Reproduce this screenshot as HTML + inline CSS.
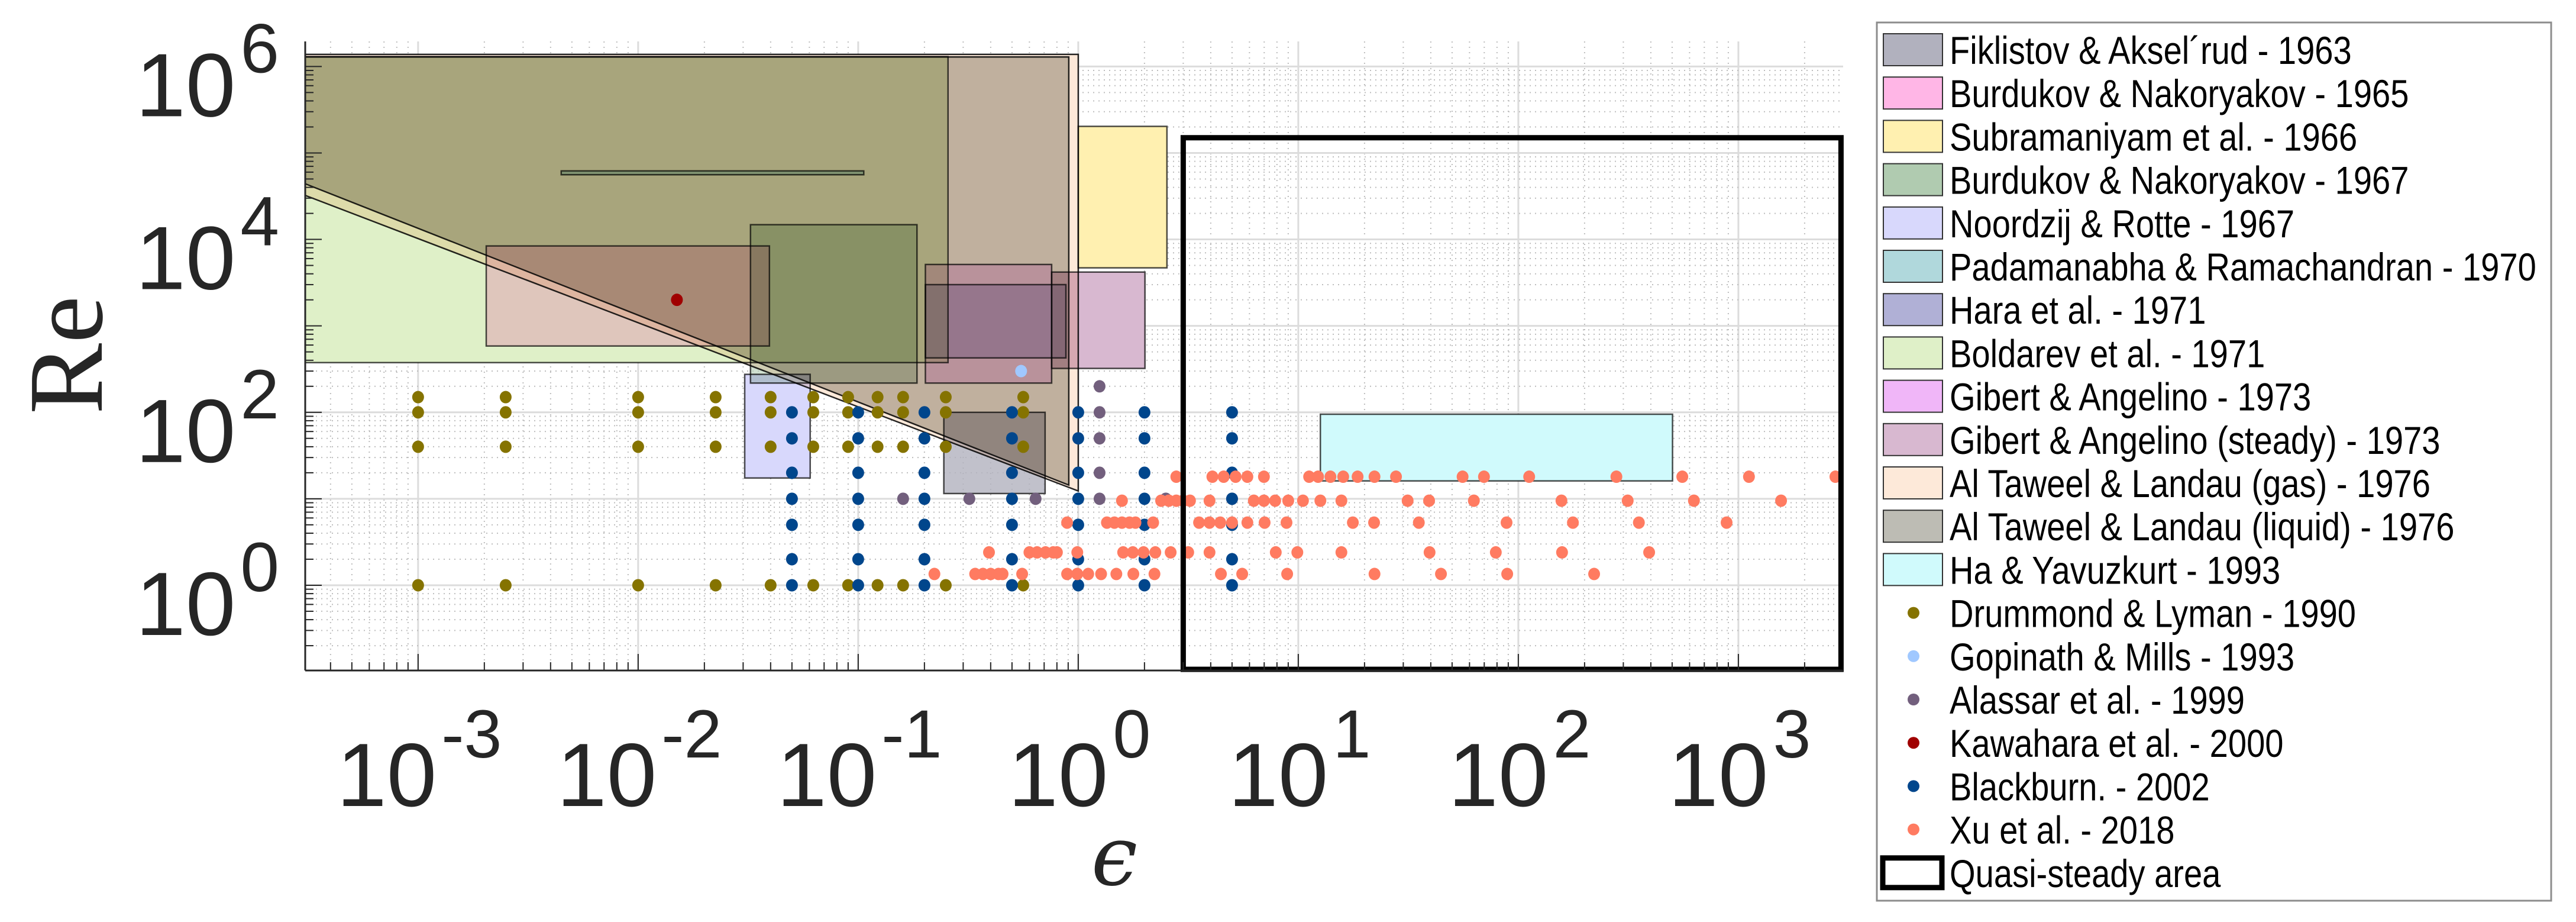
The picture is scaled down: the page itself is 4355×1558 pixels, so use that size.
<!DOCTYPE html>
<html><head><meta charset="utf-8"><title>Re vs epsilon</title>
<style>
html,body{margin:0;padding:0;background:#fff;}
svg{display:block;}
.blend{mix-blend-mode:multiply;}
</style></head>
<body>
<svg id="chart" xmlns="http://www.w3.org/2000/svg" width="4355" height="1558" viewBox="0 0 4355 1558">
<rect x="0" y="0" width="4355" height="1558" fill="#fff"/>
<defs><clipPath id="plotclip"><rect x="516" y="70" width="2600" height="1063"/></clipPath></defs>
<g id="grid"></g>
<g id="regions" clip-path="url(#plotclip)" style="isolation:isolate"></g>
<g id="points" clip-path="url(#plotclip)"></g>
<g id="quasi"></g>
<g id="axes"></g>
<g id="legend"></g>
</svg>
<script>
// ---- axis domain ----
const xMinLog = -3.513, xMaxLog = 3.476;
const yMinLog = -0.986, yMaxLog = 6.29;
const xTickExps = [-3, -2, -1, 0, 1, 2, 3];
const yTickExps = [0, 2, 4, 6];

// ---- rectangle regions: [epsMin, epsMax, ReMin, ReMax] ----
const rectNames = ["Fiklistov & Aksel´rud - 1963","Burdukov & Nakoryakov - 1965","Subramaniyam et al. - 1966","Burdukov & Nakoryakov - 1967","Noordzij & Rotte - 1967","Padamanabha & Ramachandran - 1970","Hara et al. - 1971","Boldarev et al. - 1971","Gibert & Angelino - 1973","Gibert & Angelino (steady) - 1973","Ha & Yavuzkurt - 1993"];
const rectColors = ["#b1b1be","#ffb6e6","#fff0b0","#b0cbb0","#d8d8fc","#b0d8dc","#b0b0d6","#dff0c8","#f0b6f8","#d8b8d0","#d0fafc"];
const rectEpsMin = [0.245, 0.00204, 1.0, 0.0324, 0.0305, 0.00447, 0.202, 0.0003, 0.202, 0.757, 12.6];
const rectEpsMax = [0.707, 0.0395, 2.53, 0.185, 0.0605, 0.106, 0.879, 0.256, 0.757, 2.01, 502];
const rectReMin  = [11.5, 585, 4690, 218, 17.4, 56000, 426, 376, 218, 322, 16.1];
const rectReMax  = [100, 8400, 203000, 14800, 275, 62000, 3000, 1300000, 5130, 4190, 95];
const rectOpacity = [0.8, 0.6, 1, 0.6, 1, 0.8, 0.6, 1, 0.6, 1, 1];

// ---- polygons (Al Taweel & Landau) ----
const gasEps = [0.0003, 1.0, 1.0, 0.0003];
const gasRe  = [1380000, 1380000, 12.3, 33000];
const liqEps = [0.0003, 0.906, 0.906, 0.0003];
const liqRe  = [1290000, 1290000, 14.4, 45000];

// ---- quasi-steady area ----
const quasiEps = [3.0, 3000];
const quasiRe = [0.1, 150000];

// ---- point series ----
const drumEpsCols = [0.001, 0.0025, 0.01, 0.0225, 0.04, 0.0625, 0.09, 0.1225, 0.16, 0.25, 0.5625];
const drumReRows = [150, 100, 40, 1];
const gopEps = [0.55];
const gopRe = [300];
const alaEps = [1.25, 1.25, 1.25, 1.25, 1.25, 0.16, 0.32, 0.64, 2.5, 5];
const alaRe  = [200, 100, 50, 20, 10, 10, 10, 10, 10, 10];
const kawEps = [0.015];
const kawRe = [2000];
const blackEpsCols = [0.05, 0.1, 0.2, 0.5, 1, 2, 5];
const blackReRows = [100, 50, 20, 10, 5, 2, 1];
const xuRe18 = 18, xuRe95 = 9.5, xuRe53 = 5.3, xuRe24 = 2.4, xuRe135 = 1.35;
const xuEpsRow18 = [2.79, 4.07, 4.58, 5.19, 5.87, 6.98, 11.2, 12.3, 14.0, 16.0, 18.6, 22.2, 27.8, 55.8, 69.8, 112, 279, 556, 1117, 2760];
const xuEpsRow95 = [1.58, 2.38, 2.58, 2.79, 3.0, 3.22, 3.95, 6.28, 6.98, 7.85, 9.0, 10.5, 12.6, 15.7, 31.4, 39.3, 62.8, 157, 314, 628, 1563];
const xuEpsRow53 = [0.89, 1.35, 1.46, 1.58, 1.71, 1.82, 2.19, 3.54, 3.95, 4.42, 5.0, 5.87, 7.03, 8.84, 17.7, 22.1, 35.3, 88.4, 177, 353, 884];
const xuEpsRow24 = [0.393, 0.60, 0.65, 0.71, 0.77, 0.80, 0.99, 1.6, 1.77, 1.98, 2.24, 2.63, 3.16, 3.95, 7.9, 9.9, 15.7, 39.5, 79, 158, 393];
const xuEpsRow135 = [0.222, 0.34, 0.369, 0.40, 0.434, 0.453, 0.556, 0.89, 0.99, 1.11, 1.27, 1.49, 1.78, 2.22, 4.45, 5.56, 8.9, 22.2, 44.5, 89, 221];

// ---- legend ----
const legendLabels = ["Fiklistov & Aksel´rud - 1963","Burdukov & Nakoryakov - 1965","Subramaniyam et al. - 1966","Burdukov & Nakoryakov - 1967","Noordzij & Rotte - 1967","Padamanabha & Ramachandran - 1970","Hara et al. - 1971","Boldarev et al. - 1971","Gibert & Angelino - 1973","Gibert & Angelino (steady) - 1973","Al Taweel & Landau (gas) - 1976","Al Taweel & Landau (liquid) - 1976","Ha & Yavuzkurt - 1993","Drummond & Lyman - 1990","Gopinath & Mills - 1993","Alassar et al. - 1999","Kawahara et al. - 2000","Blackburn. - 2002","Xu et al. - 2018","Quasi-steady area"];
const legendColors = ["#b1b1be","#ffb6e6","#fff0b0","#b0cbb0","#d8d8fc","#b0d8dc","#b0b0d6","#dff0c8","#f0b6f8","#d8b8d0","#fde9d9","#bdbcb4","#d0fafc","#857300","#a0c8ff","#725f7d","#a00000","#00468c","#ff7b61","none"];
const legendKinds = ["patch","patch","patch","patch","patch","patch","patch","patch","patch","patch","patch","patch","patch","dot","dot","dot","dot","dot","dot","box"];

// ---- scales ----
const PX0 = 516, PX1 = 3116, PY0 = 70, PY1 = 1133;
function X(e){ return PX0 + (Math.log10(e) - xMinLog) / (xMaxLog - xMinLog) * (PX1 - PX0); }
function Y(r){ return PY1 - (Math.log10(r) - yMinLog) / (yMaxLog - yMinLog) * (PY1 - PY0); }
const NS = "http://www.w3.org/2000/svg";
function mk(tag, attrs, parent){ const el = document.createElementNS(NS, tag); for (const k in attrs) el.setAttribute(k, attrs[k]); parent.appendChild(el); return el; }

// ---- grid ----
const grid = document.getElementById('grid');
for (let d = -4; d <= 3; d++) {
  for (let m = 1; m <= 9; m++) {
    const v = m * Math.pow(10, d); const lx = Math.log10(v);
    if (lx < xMinLog || lx > xMaxLog) continue;
    const x = X(v);
    const ln = mk('line', {x1:x, x2:x, y1:PY0, y2:PY1, stroke: m===1 ? '#dcdcdc' : '#bdbdbd', 'stroke-width': m===1 ? 3 : 2, 'stroke-dasharray': m===1 ? 'none' : '2 7'}, grid);
    
    
  }
}
for (let d = -1; d <= 6; d++) {
  for (let m = 1; m <= 9; m++) {
    const v = m * Math.pow(10, d); const ly = Math.log10(v);
    if (ly < yMinLog - 0.01 || ly > yMaxLog) continue;
    const y = Y(v);
    const ln = mk('line', {x1:PX0, x2:PX1, y1:y, y2:y, stroke: m===1 ? '#dcdcdc' : '#bdbdbd', 'stroke-width': m===1 ? 3 : 2, 'stroke-dasharray': m===1 ? 'none' : '2 7'}, grid);
    
    
  }
}

// ---- regions ----
const regions = document.getElementById('regions');
function poly(es, rs, color, name){
  const pts = es.map((e,i)=> X(e).toFixed(1)+','+Y(rs[i]).toFixed(1)).join(' ');
  const p = mk('polygon', {points: pts, fill: color, stroke: '#000', 'stroke-width': 2.5, 'stroke-opacity': 0.85, class: 'blend'}, regions);
  
  
}
poly(gasEps, gasRe, '#fde9d9', 'al-taweel-gas-region');
poly(liqEps, liqRe, '#c2c1ba', 'al-taweel-liquid-region');
for (let i = 0; i < rectNames.length; i++) {
  const x0 = X(rectEpsMin[i]), x1 = X(rectEpsMax[i]), y0 = Y(rectReMax[i]), y1 = Y(rectReMin[i]);
  const r = mk('rect', {x:x0, y:y0, width:x1-x0, height:y1-y0, fill: rectColors[i], 'fill-opacity': rectOpacity[i], stroke:'#000', 'stroke-width':2.5, 'stroke-opacity':0.7, class:'blend'}, regions);
  
  
}

// ---- points ----
const pts = document.getElementById('points');
function dot(e, r, color, name){
  const c = mk('ellipse', {cx: X(e), cy: Y(r), rx: 10, ry: 10.5, fill: color}, pts);
  
  
}
drumEpsCols.forEach(e => drumReRows.forEach(r => dot(e, r, '#857300', 'drummond-point')));
gopEps.forEach((e,i) => dot(e, gopRe[i], '#a0c8ff', 'gopinath-point'));
alaEps.forEach((e,i) => dot(e, alaRe[i], '#725f7d', 'alassar-point'));
kawEps.forEach((e,i) => dot(e, kawRe[i], '#a00000', 'kawahara-point'));
blackEpsCols.forEach(e => blackReRows.forEach(r => dot(e, r, '#00468c', 'blackburn-point')));
xuEpsRow18.forEach(e => dot(e, xuRe18, '#ff7b61', 'xu-point'));
xuEpsRow95.forEach(e => dot(e, xuRe95, '#ff7b61', 'xu-point'));
xuEpsRow53.forEach(e => dot(e, xuRe53, '#ff7b61', 'xu-point'));
xuEpsRow24.forEach(e => dot(e, xuRe24, '#ff7b61', 'xu-point'));
xuEpsRow135.forEach(e => dot(e, xuRe135, '#ff7b61', 'xu-point'));

// ---- quasi-steady box ----
const qg = document.getElementById('quasi');
{
  const x0 = X(quasiEps[0]), x1 = X(quasiEps[1]), y0 = Y(quasiRe[1]), y1 = Y(quasiRe[0]);
  const q = mk('rect', {x:x0, y:y0, width:x1-x0-4, height:y1-y0-4, fill:'none', stroke:'#000', 'stroke-width':9}, qg);
  
  
}

// ---- axes ----
const ax = document.getElementById('axes');
{
  const l1 = mk('line', {x1:PX0, x2:PX0, y1:PY0, y2:PY1, stroke:'#262626', 'stroke-width':3}, ax);
  
  
  const l2 = mk('line', {x1:PX0, x2:PX1, y1:PY1, y2:PY1, stroke:'#262626', 'stroke-width':3}, ax);
  
  
}
for (let d = -4; d <= 3; d++) for (let m = 1; m <= 9; m++) {
  const v = m * Math.pow(10, d); const lx = Math.log10(v);
  if (lx < xMinLog || lx > xMaxLog) continue;
  const t = mk('line', {x1:X(v), x2:X(v), y1:PY1, y2:PY1 - (m===1?28:14), stroke:'#262626', 'stroke-width':2}, ax);
  
  
}
for (let d = -1; d <= 6; d++) for (let m = 1; m <= 9; m++) {
  const v = m * Math.pow(10, d); const ly = Math.log10(v);
  if (ly < yMinLog - 0.01 || ly > yMaxLog) continue;
  const t = mk('line', {x1:PX0, x2:PX0 + (m===1?28:14), y1:Y(v), y2:Y(v), stroke:'#262626', 'stroke-width':2}, ax);
  
  
}
xTickExps.forEach(p => {
  const t = mk('text', {x: X(Math.pow(10,p)) + 2, y: 1362, 'text-anchor':'middle', fill:'#262626', 'font-family':'Liberation Sans, Arial, sans-serif', 'font-size':152}, ax);
  
  
  const a = document.createElementNS(NS,'tspan'); a.textContent = '10'; t.appendChild(a);
  const b = document.createElementNS(NS,'tspan'); b.setAttribute('dy', -82); b.setAttribute('font-size', 115); b.setAttribute('dx', 8); b.textContent = String(p); t.appendChild(b);
});
yTickExps.forEach(p => {
  const t = mk('text', {x: 472, y: Y(Math.pow(10,p)) + 84, 'text-anchor':'end', fill:'#262626', 'font-family':'Liberation Sans, Arial, sans-serif', 'font-size':152}, ax);
  
  
  const a = document.createElementNS(NS,'tspan'); a.textContent = '10'; t.appendChild(a);
  const b = document.createElementNS(NS,'tspan'); b.setAttribute('dy', -74); b.setAttribute('font-size', 118); b.setAttribute('dx', 8); b.textContent = String(p); t.appendChild(b);
});
{
  const yl = mk('text', {transform:'translate(172,600) rotate(-90)', 'text-anchor':'middle', fill:'#262626', 'font-family':'Liberation Serif, DejaVu Serif, serif', 'font-size':180}, ax);
  yl.textContent = 'Re';
  
  
  const xl = mk('text', {x:1884, y:1495, 'text-anchor':'middle', fill:'#262626', 'font-family':'DejaVu Serif, Liberation Serif, serif', 'font-style':'italic', 'font-size':140}, ax);
  xl.textContent = 'ϵ';
  
  
}

// ---- legend ----
const lg = document.getElementById('legend');
{
  const b = mk('rect', {x:3173, y:38, width:1140, height:1484, fill:'#fff', stroke:'#8c8c8c', 'stroke-width':3}, lg);
  
  
}
legendLabels.forEach((lab, i) => {
  const cy = 84 + i * 73.2;
  const g = mk('g', {}, lg);
  
  
  if (legendKinds[i] === 'patch') {
    const r = mk('rect', {x:3184, y:cy-27, width:100, height:54, fill: legendColors[i], stroke:'#333', 'stroke-width':2}, g);
    
    
  } else if (legendKinds[i] === 'dot') {
    const c = mk('ellipse', {cx:3235, cy:cy, rx:10, ry:10, fill: legendColors[i]}, g);
    
    
  } else {
    const r = mk('rect', {x:3183, y:cy-25, width:100, height:50, fill:'none', stroke:'#000', 'stroke-width':9}, g);
    
    
  }
  const t = mk('text', {transform:'translate(3296,' + (cy + 24) + ') scale(0.85,1)', fill:'#000', 'font-family':'Liberation Sans, Arial, sans-serif', 'font-size':66}, g);
  t.textContent = lab;
  
  
});
</script>
</body></html>
